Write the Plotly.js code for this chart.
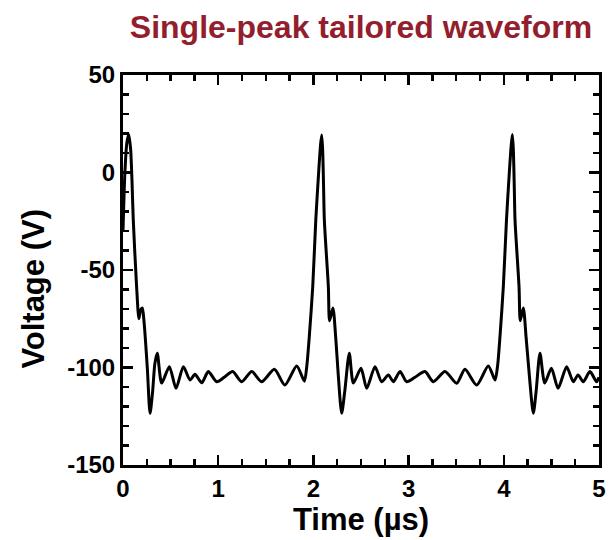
<!DOCTYPE html>
<html>
<head>
<meta charset="utf-8">
<script src="https://cdn.plot.ly/plotly-3.0.1.min.js"></script>
<style>html,body{margin:0;padding:0;background:#fff;}#chart{width:610px;height:540px;}</style>
</head>
<body>
<div id="chart"></div>
<script>
// Time in microseconds, voltage in volts
const timeUs = [
  0, 0.02, 0.04, 0.06, 0.08, 0.095, 0.108, 0.143, 0.167, 0.185, 0.203, 0.22, 0.255, 0.284, 0.31, 0.335, 0.36,
  0.406, 0.487, 0.557, 0.634, 0.704, 0.756, 0.827, 0.896, 0.984, 1.071, 1.152, 1.247, 1.352, 1.457, 1.59, 1.70,
  1.825, 1.905, 1.93, 1.957, 1.993, 2.025, 2.055, 2.075, 2.087, 2.097, 2.106, 2.115, 2.157, 2.17, 2.205, 2.235,
  2.26, 2.297, 2.33, 2.377, 2.42, 2.50, 2.56, 2.647, 2.717, 2.787, 2.84, 2.91, 2.98, 3.067, 3.172, 3.26, 3.382,
  3.505, 3.592, 3.715, 3.837, 3.908, 3.935, 3.96, 3.995, 4.028, 4.058, 4.078, 4.09, 4.1, 4.109, 4.118, 4.16,
  4.173, 4.205, 4.235, 4.27, 4.31, 4.34, 4.38, 4.43, 4.50, 4.57, 4.66, 4.73, 4.78, 4.835, 4.905, 4.975, 5.0
];
const voltageV = [
  -30, 0, 15, 19.5, 12, -5, -24.4, -58.6, -75, -70.5, -69.5, -76, -100, -123.5, -113, -98, -92.7,
  -108, -99.6, -110.7, -99.6, -106.4, -103.5, -107.8, -102.1, -107.3, -104.7, -102.1, -107.3, -102.1, -107.3, -100.9, -109,
  -99.2, -107, -99.6, -84, -58.6, -24.4, 0, 14, 19.2, 12, -5, -24.4, -58.6, -76, -69.5, -85,
  -103, -123.5, -112, -92.7, -108, -100.4, -110.7, -99.6, -107.3, -103.8, -107.3, -102.1, -107.3, -105, -102.1, -107.3, -102.1,
  -108.1, -100.9, -109, -99.2, -106.4, -99, -84, -58.6, -24.4, 0, 14, 19.5, 12, -5, -24.4, -58.6,
  -76, -69.5, -85, -105, -123.5, -112, -92.7, -108, -100.4, -110.7, -99.6, -107.3, -103.8, -107.3, -102.1, -107.3, -105
];
const xTickVals = [0, 1, 2, 3, 4, 5];
const yTickVals = [-150, -100, -50, 0, 50];

const FONT = 'Liberation Sans, Arial, Helvetica, sans-serif';

const trace = {
  x: timeUs,
  y: voltageV,
  type: 'scatter',
  mode: 'lines',
  line: {color: '#000000', width: 3, shape: 'spline', smoothing: 0.7},
  hoverinfo: 'skip'
};

const axisCommon = {
  showgrid: false,
  zeroline: false,
  showline: true,
  linecolor: '#000',
  linewidth: 3,
  mirror: 'allticks',
  ticks: 'inside',
  ticklen: 10,
  tickwidth: 2.5,
  tickcolor: '#000',
  tickfont: {family: FONT, size: 24, color: '#000', weight: 'bold'},
  fixedrange: true
};

const layout = {
  width: 610,
  height: 540,
  paper_bgcolor: '#ffffff',
  plot_bgcolor: '#ffffff',
  showlegend: false,
  margin: {l: 123, r: 11, t: 75, b: 75, pad: 0},
  title: {
    text: 'Single-peak tailored waveform',
    font: {family: FONT, size: 32, color: '#931E2E', weight: 'bold'},
    x: 0.5, xref: 'paper', xanchor: 'center',
    y: 0.95, yref: 'container', yanchor: 'middle'
  },
  xaxis: Object.assign({}, axisCommon, {
    range: [0, 5],
    tickmode: 'array',
    tickvals: xTickVals,
    ticktext: xTickVals.map(String),
    minor: {dtick: 0.25, ticks: 'inside', ticklen: 6, tickwidth: 2.5, tickcolor: '#000', showgrid: false},
    title: {text: 'Time (µs)', font: {family: FONT, size: 31, color: '#000', weight: 'bold'}, standoff: 8}
  }),
  yaxis: Object.assign({}, axisCommon, {
    range: [-150, 50],
    tickmode: 'array',
    tickvals: yTickVals,
    ticktext: yTickVals.map(String),
    minor: {dtick: 10, ticks: 'inside', ticklen: 6, tickwidth: 2.5, tickcolor: '#000', showgrid: false}
  }),
  annotations: [{
    text: 'Voltage (V)',
    textangle: -90,
    font: {family: FONT, size: 31, color: '#000', weight: 'bold'},
    xref: 'paper', yref: 'paper',
    x: -0.188, y: 0.451,
    xanchor: 'center', yanchor: 'middle',
    showarrow: false
  }]
};

Plotly.newPlot('chart', [trace], layout, {staticPlot: true, displayModeBar: false});
</script>
</body>
</html>
